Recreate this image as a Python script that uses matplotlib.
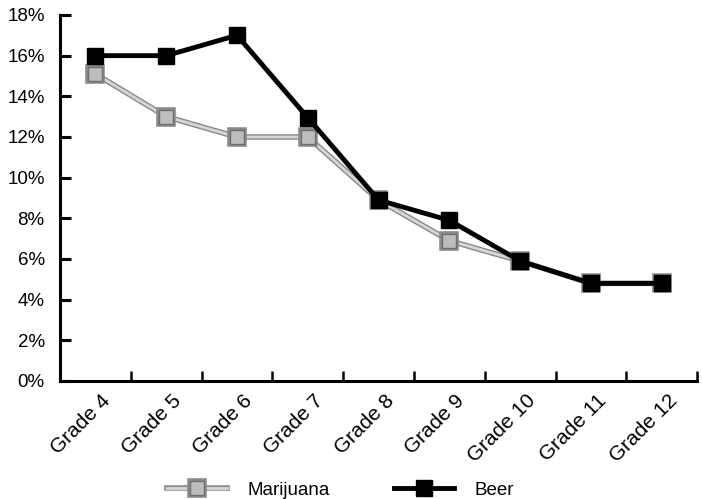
import matplotlib.pyplot as plt
import matplotlib.patheffects as pe
import matplotlib.transforms as mtransforms
import numpy as np

plt.rcParams['font.family'] = ['Liberation Sans', 'DejaVu Sans']

grades = ['Grade 4', 'Grade 5', 'Grade 6', 'Grade 7', 'Grade 8',
          'Grade 9', 'Grade 10', 'Grade 11', 'Grade 12']
marijuana = [15.1, 13.0, 12.0, 12.0, 8.9, 6.9, 5.9, 4.8, 4.8]
beer = [16.0, 16.0, 17.0, 12.95, 8.9, 7.9, 5.9, 4.8, 4.8]
y_ticks = [0, 2, 4, 6, 8, 10, 12, 14, 16, 18]

fig = plt.figure(figsize=(7.02, 4.99), dpi=100)
ax = fig.add_axes([0.0855, 0.2365, 0.9075, 0.7335])

x = np.arange(len(grades))

# marijuana: light speckled-looking line with a darker outline
ax.plot(x, marijuana, color='#d6d6d6', lw=2, marker='s', markersize=10,
        markerfacecolor='#bdbdbd', markeredgecolor='#6e6e6e', markeredgewidth=1,
        label='Marijuana', zorder=2,
        path_effects=[pe.Stroke(linewidth=4, foreground='#8a8a8a'), pe.Normal()])
ax.plot(x, beer, color='black', lw=3.5, marker='s', markersize=12,
        markerfacecolor='black', markeredgecolor='black',
        label='Beer', zorder=3)

ax.set_xlim(-0.5, len(grades) - 0.5)
ax.set_ylim(0, 18)

ax.set_yticks(y_ticks)
ax.set_yticklabels([f'{v}%' for v in y_ticks], fontsize=13.5)
ax.tick_params(axis='y', direction='in', length=8, width=2.2, pad=11)

ax.set_xticks(x)
ax.set_xticklabels(grades, rotation=45, ha='right', rotation_mode='anchor', fontsize=15)
ax.set_xticks(np.arange(0.5, len(grades), 1.0), minor=True)
ax.tick_params(axis='x', which='major', length=0, pad=7)
ax.tick_params(axis='x', which='minor', direction='in', length=7, width=1.8)
shift = mtransforms.ScaledTranslation(4 / 72, 0, fig.dpi_scale_trans)
for lbl in ax.get_xticklabels():
    lbl.set_transform(lbl.get_transform() + shift)

for s in ['top', 'right']:
    ax.spines[s].set_visible(False)
for s in ['left', 'bottom']:
    ax.spines[s].set_linewidth(2.2)

fig.legend(loc='center left', bbox_to_anchor=(167 / 702, 1 - 490 / 499), ncol=2,
           frameon=False, fontsize=13.5, handlelength=3.2, handletextpad=1.1,
           columnspacing=3.4, borderpad=0, borderaxespad=0)

fig.savefig('out.png', dpi=100)
